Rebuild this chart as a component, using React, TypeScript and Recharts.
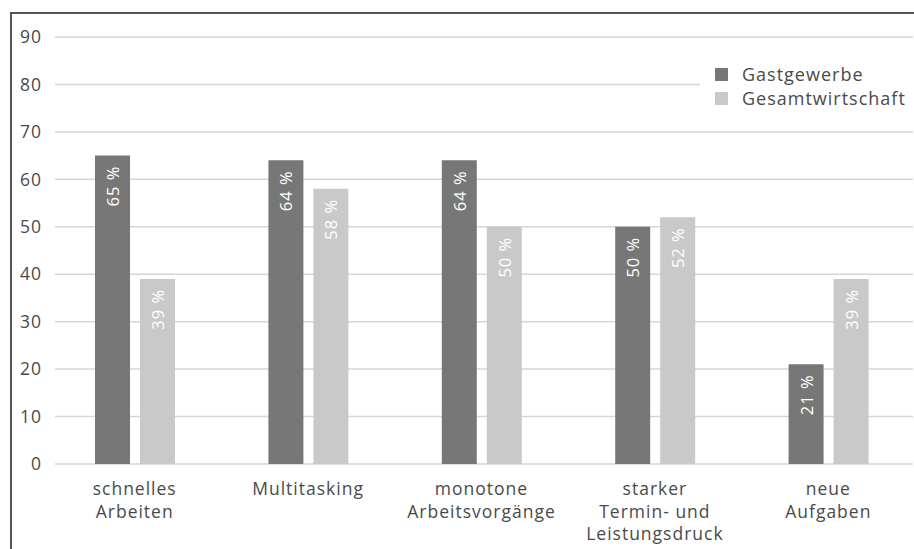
import { BarChart, Bar, XAxis, YAxis, CartesianGrid, LabelList } from "recharts";

const categories = ["schnelles\nArbeiten", "Multitasking", "monotone\nArbeitsvorgänge", "starker\nTermin- und\nLeistungsdruck", "neue\nAufgaben"];
const gastgewerbe = [65, 64, 64, 50, 21];
const gesamtwirtschaft = [39, 58, 50, 52, 39];
const yTicks = [0, 10, 20, 30, 40, 50, 60, 70, 80, 90];

const data = categories.map((name, i) => ({
  name,
  gast: gastgewerbe[i],
  gesamt: gesamtwirtschaft[i],
}));

const FONT = "'Open Sans', 'Noto Sans', sans-serif";
const TEXT = "#4a4a4a";

function CategoryTick(props: any) {
  const { x, y, payload } = props;
  const lines = String(payload.value).split("\n");
  return (
    <text x={x} y={y} textAnchor="middle" fill={TEXT} fontSize={17.5} letterSpacing={1} fontFamily={FONT}>
      {lines.map((l, i) => (
        <tspan key={i} x={x} dy={i === 0 ? 23 : 22.5}>{l}</tspan>
      ))}
    </text>
  );
}

function ValueLabel(props: any) {
  const { x, y, width, value } = props;
  const cx = x + width / 2;
  const ty = y + 10;
  return (
    <text
      x={cx}
      y={ty}
      transform={`rotate(-90, ${cx}, ${ty})`}
      textAnchor="end"
      dominantBaseline="central"
      fill="#fff"
      fontSize={16.5}
      letterSpacing={1}
      fontFamily={FONT}
    >
      {value} %
    </text>
  );
}

const legendItems = [
  { label: "Gastgewerbe", color: "#777777" },
  { label: "Gesamtwirtschaft", color: "#c9c9c9" },
];

export default function App() {
  return (
    <div style={{ position: "absolute", left: 0, top: 0, width: 914, height: 549, background: "#fff" }}>
      <div
        style={{
          position: "absolute", left: 10, top: 12, right: 0, bottom: 0,
          borderLeft: "2px solid #555", borderTop: "2px solid #555",
        }}
      />
      <div style={{ position: "absolute", left: 0, top: 0 }}>
        <BarChart width={914} height={549} data={data} margin={{ top: 37, right: -1, bottom: 55, left: 0 }} barSize={35} barGap={10}>
          <CartesianGrid vertical={false} stroke="#d6d6d6" strokeWidth={1.5} x={55} width={858} />
          <YAxis
            width={48}
            domain={[0, 90]}
            ticks={yTicks}
            tickLine={false}
            axisLine={false}
            tickSize={4}
            tick={{ fontSize: 17.5, fill: TEXT, fontFamily: FONT, letterSpacing: 1 }}
          />
          <XAxis dataKey="name" axisLine={false} tickLine={false} tick={<CategoryTick />} interval={0} height={30} />
          <Bar dataKey="gast" name="Gastgewerbe" fill="#777777" isAnimationActive={false}>
            <LabelList dataKey="gast" content={<ValueLabel />} />
          </Bar>
          <Bar dataKey="gesamt" name="Gesamtwirtschaft" fill="#c9c9c9" isAnimationActive={false}>
            <LabelList dataKey="gesamt" content={<ValueLabel />} />
          </Bar>
        </BarChart>
      </div>
      <div
        style={{
          position: "absolute", left: 700, top: 61, width: 214, background: "#fff",
          padding: "1px 0 4px 15px", boxSizing: "border-box", fontFamily: FONT,
        }}
      >
        {legendItems.map((it) => (
          <div key={it.label} style={{ display: "flex", alignItems: "center", height: 24 }}>
            <span style={{ width: 13, height: 13, background: it.color, display: "inline-block", marginRight: 14, flexShrink: 0 }} />
            <span style={{ fontSize: 18, letterSpacing: 1, color: TEXT, whiteSpace: "nowrap" }}>{it.label}</span>
          </div>
        ))}
      </div>
    </div>
  );
}
